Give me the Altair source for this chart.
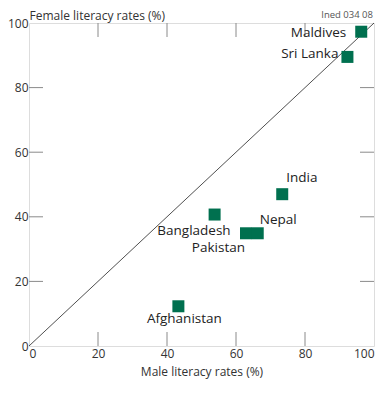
import altair as alt
import pandas as pd

countries = ["Maldives", "Sri Lanka", "India", "Bangladesh", "Pakistan", "Nepal", "Afghanistan"]
male = [96.3, 92.3, 73.4, 53.8, 62.9, 66.3, 43.3]
female = [97.3, 89.5, 47.0, 40.7, 34.9, 34.9, 12.3]
tick_values = [20, 40, 60, 80]
axis_values = [0, 20, 40, 60, 80, 100]
source_note = ["Ined 034 08"]

# label placement (align, dx, dy) - styling only
label_style = {
    "Maldives": ("right", -15, 1),
    "Sri Lanka": ("right", -9, -3),
    "India": ("left", 4, -16),
    "Bangladesh": ("right", 16, 16),
    "Pakistan": ("right", -1, 15),
    "Nepal": ("left", 2, -13),
    "Afghanistan": ("center", 6, 13),
}

df = pd.DataFrame({"country": countries, "male": male, "female": female})
diag = pd.DataFrame({"x": [0], "y": [0], "x2": [100], "y2": [100]})
ticks = pd.DataFrame({"v": tick_values})
note = pd.DataFrame({"t": source_note})

W, H = 345, 323
FONT = "Open Sans"
GREEN = "#00704f"

xs = alt.Scale(domain=[0, 100], nice=False)
ys = alt.Scale(domain=[0, 100], nice=False)

xaxis = alt.Axis(values=axis_values, title="Male literacy rates (%)", grid=False, domain=False,
                 ticks=False, labelPadding=2, labelFontSize=12, labelColor="#333",
                 titleFontSize=12, titleFontWeight="normal", titleColor="#333", titlePadding=7,
                 labelFont=FONT, titleFont=FONT)
yaxis = alt.Axis(values=axis_values, title="Female literacy rates (%)", grid=False, domain=False,
                 ticks=False, labelPadding=1, labelFontSize=12, labelColor="#333",
                 titleFontSize=12, titleFontWeight="normal", titleColor="#333",
                 titleAngle=0, titleAlign="left", titleBaseline="middle", titleX=0, titleY=-8,
                 labelFont=FONT, titleFont=FONT)

line = alt.Chart(diag).mark_rule(color="#222", strokeWidth=0.8).encode(
    x=alt.X("x:Q", scale=xs, axis=xaxis),
    y=alt.Y("y:Q", scale=ys, axis=yaxis),
    x2="x2:Q", y2="y2:Q",
)

tick_color = "#8a8a8a"
tb = alt.Chart(ticks).mark_rule(color=tick_color, strokeWidth=1).encode(
    x=alt.X("v:Q", scale=xs), y=alt.value(H), y2=alt.value(H - 14))
tt = alt.Chart(ticks).mark_rule(color=tick_color, strokeWidth=1).encode(
    x=alt.X("v:Q", scale=xs), y=alt.value(0), y2=alt.value(14))
tl = alt.Chart(ticks).mark_rule(color=tick_color, strokeWidth=1).encode(
    y=alt.Y("v:Q", scale=ys), x=alt.value(0), x2=alt.value(14))
tr = alt.Chart(ticks).mark_rule(color=tick_color, strokeWidth=1).encode(
    y=alt.Y("v:Q", scale=ys), x=alt.value(W), x2=alt.value(W - 14))

pts = alt.Chart(df).mark_square(size=144, color=GREEN, opacity=1).encode(
    x=alt.X("male:Q", scale=xs), y=alt.Y("female:Q", scale=ys))

labels = []
for c, (al, dx, dy) in label_style.items():
    labels.append(
        alt.Chart(df).transform_filter(alt.datum.country == c).mark_text(
            align=al, baseline="middle", dx=dx, dy=dy, fontSize=13.5, font=FONT, color="#222"
        ).encode(x=alt.X("male:Q", scale=xs), y=alt.Y("female:Q", scale=ys), text="country:N")
    )

note_layer = alt.Chart(note).mark_text(
    align="right", baseline="bottom", fontSize=9.5, font=FONT, color="#555"
).encode(x=alt.value(W - 1), y=alt.value(-3), text="t:N")

chart = alt.layer(line, tb, tt, tl, tr, pts, *labels, note_layer).properties(
    width=W, height=H,
    autosize=alt.AutoSizeParams(type="none"),
    padding={"left": 21, "top": 15, "right": 10, "bottom": 36},
).configure_view(stroke="#b5b5b5", strokeWidth=1.5).configure(background="white")

chart.save("out.html", embed_options={"renderer": "svg", "actions": False})
